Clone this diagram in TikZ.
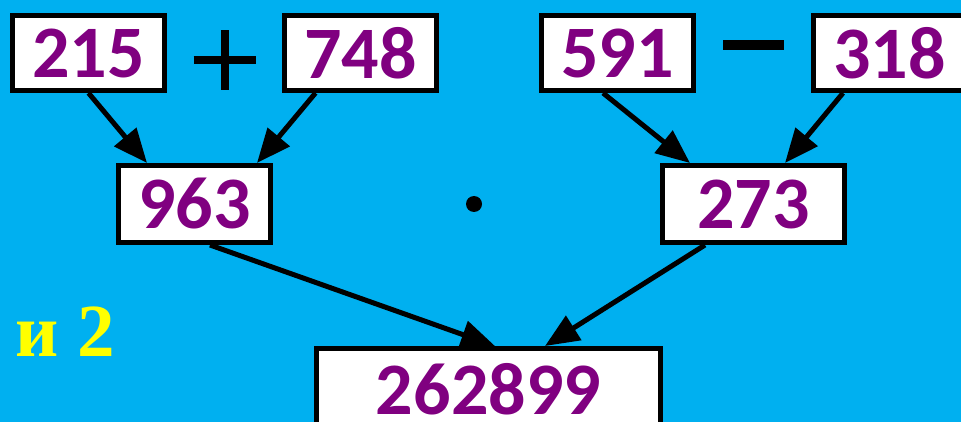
\documentclass[tikz,border=0pt]{standalone}
\usepackage{fontspec}
\usetikzlibrary{arrows.meta}
\newfontfamily\numfont{Carlito}[BoldFont={Carlito Bold}]
\newfontfamily\serfont{Liberation Serif}[BoldFont={Liberation Serif Bold}]
\definecolor{bgblue}{HTML}{00B0F0}
\definecolor{numpurple}{HTML}{800080}
\definecolor{labyellow}{HTML}{FFFF00}
\tikzset{
  numbox/.style={draw=black, fill=white, line width=5pt, inner sep=0pt,
    minimum width=152pt, minimum height=75pt, text=numpurple,
    font=\numfont\bfseries\fontsize{74}{74}\selectfont},
  conn/.style={line width=5pt, draw=black, -{Triangle[length=34pt,width=28pt]}},
  opline/.style={line width=8pt, draw=black}
}
\begin{document}
\begin{tikzpicture}[x=1pt,y=-1pt]
\fill[bgblue] (0,0) rectangle (961,422);
\useasboundingbox (0,0) rectangle (961,422);
\node[numbox] (a) at (88.5,53) {215};
\node[numbox] (b) at (360.5,53) {748};
\node[numbox] (c) at (617.5,53) {591};
\node[numbox] (d) at (889.5,53) {318};
\node[numbox, minimum height=77pt] (e) at (194.5,204) {963};
\node[numbox, minimum width=182pt, minimum height=77pt] (f) at (753.5,204) {273};
\node[numbox, minimum width=344pt, minimum height=81pt] (g) at (488.5,389) {262899};
% operators
\coordinate (pc) at (224.5,60);
\draw[opline] ([xshift=-31pt]pc) -- ([xshift=31pt]pc);
\draw[opline] ([yshift=-30pt]pc) -- ([yshift=30pt]pc);
\coordinate (mc) at (753.5,45);
\draw[line width=10pt] ([xshift=-30.5pt]mc) -- ([xshift=30.5pt]mc);
\node[circle, fill=black, inner sep=0pt, minimum size=16pt] (dot) at (474,204) {};
% connectors
\draw[conn] (a.south) -- ([xshift=-47.5pt]e.north);
\draw[conn] ([xshift=-45pt]b.south) -- ([xshift=62.5pt]e.north);
\draw[conn] ([xshift=-14.5pt]c.south) -- ([xshift=-63.5pt]f.north);
\draw[conn] ([xshift=-46.5pt]d.south) -- ([xshift=31.5pt]f.north);
\draw[conn] ([xshift=15.5pt]e.south) -- ([xshift=6.5pt]g.north);
\draw[conn] ([xshift=-48.5pt]f.south) -- ([xshift=56.5pt]g.north);
% label
\node[anchor=base west, inner sep=0pt, text=labyellow,
  font=\serfont\bfseries\fontsize{75}{75}\selectfont] (lab) at (15,356) {и 2};
\end{tikzpicture}
\end{document}
